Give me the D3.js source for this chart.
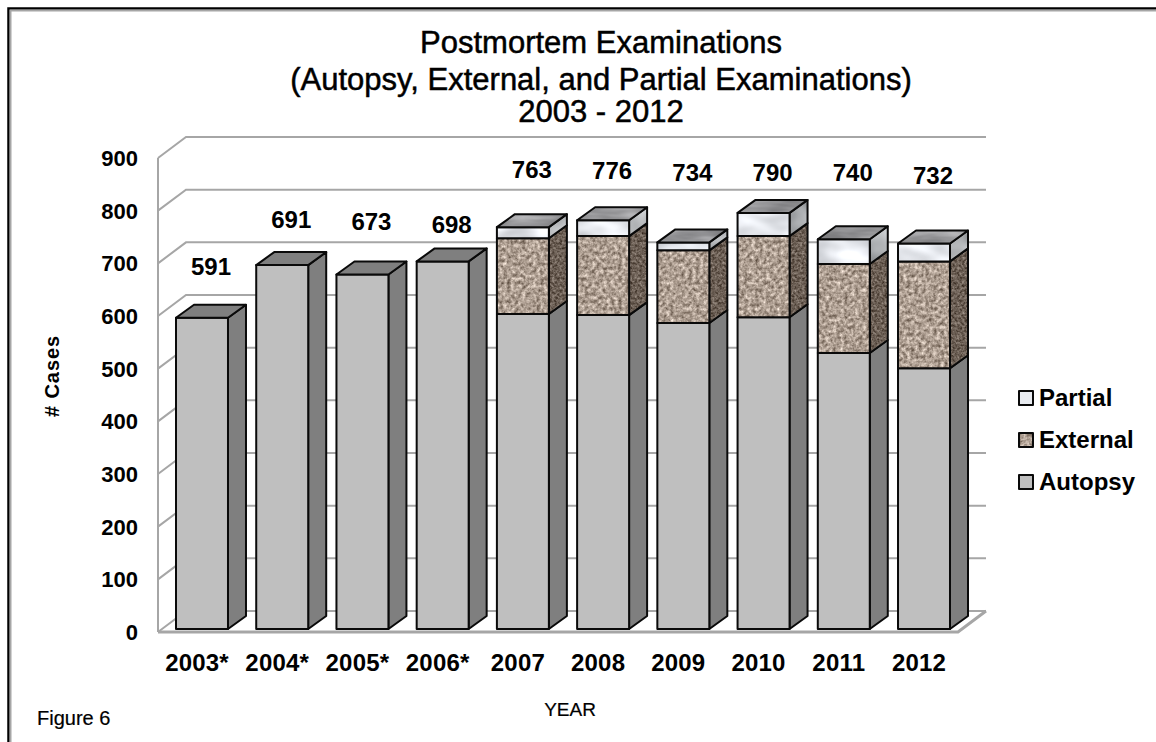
<!DOCTYPE html>
<html><head><meta charset="utf-8">
<script src="https://cdnjs.cloudflare.com/ajax/libs/d3/7.8.5/d3.min.js"></script>
<style>html,body{margin:0;padding:0;background:#fff}svg{display:block}text{font-family:"Liberation Sans",Arial,sans-serif;fill:#000}</style>
</head><body><div id="chart"></div>
<script>
const years=["2003*","2004*","2005*","2006*","2007","2008","2009","2010","2011","2012"];
const autopsy=[591,691,673,698,598,596,581,592,524,495];
const external=[0,0,0,0,144,150,138,154,169,203];
const partial=[0,0,0,0,21,30,15,44,47,34];
const totals=[591,691,673,698,763,776,734,790,740,732];
const labelLevels=[687,776,772,768,871,869,865,865,865,861];
const yTicks=[0,100,200,300,400,500,600,700,800,900];
const titleLines=["Postmortem Examinations","(Autopsy, External, and Partial Examinations)","2003 - 2012"];
const legendItems=["Partial","External","Autopsy"];

const W=1156,H=742;
const svg=d3.select("#chart").append("svg").attr("width",W).attr("height",H);
const defs=svg.append("defs");
function tex(id,freq,oct,seed,m){
  const f=defs.append("filter").attr("id",id).attr("x",0).attr("y",0).attr("width",1).attr("height",1)
    .attr("color-interpolation-filters","sRGB");
  f.append("feTurbulence").attr("type","fractalNoise").attr("baseFrequency",freq).attr("numOctaves",oct).attr("seed",seed);
  f.append("feColorMatrix").attr("type","matrix").attr("values",m);
  f.append("feComposite").attr("in2","SourceAlpha").attr("operator","in");
}
const mat=(k,r,g,b)=>`${k} 0 0 0 ${r} ${k} 0 0 0 ${g} ${k} 0 0 0 ${b} 0 0 0 0 1`;
tex("granite","0.27",3,4,mat(.8,.28,.22,.17));
tex("graniteDark","0.4",3,7,mat(.6,.12,.07,.03));
tex("partialFace","0.03 0.06",2,3,mat(.4,.7,.71,.73));
tex("partialSide","0.04",2,5,mat(.5,.43,.44,.45));
tex("topFace","0.02 0.1",3,9,mat(.4,.39,.39,.4));

const depthX=18,depthY=13,wallX=28,wallY=21;
const x=d3.scaleBand().domain(years).range([158,968]).paddingInner(.352).paddingOuter(.2244);
const y=d3.scaleLinear().domain([0,900]).range([629,155]);
const wallBase=3;
const gy=v=>y(v)+wallBase;
const g=svg.append("g");

// frame
g.append("path").attr("d",`M${W},8.5H8.5V${H}`).attr("fill","none").attr("stroke","#000").attr("stroke-width",2.5);
g.append("path").attr("d",`M${W},10.5H10.5V${H}`).attr("fill","none").attr("stroke","#a6a6a6").attr("stroke-width",2);

// walls and gridlines
const grid="#a6a6a6";
const left=158,right=958;
g.append("line").attr("x1",left).attr("x2",left).attr("y1",gy(900)).attr("y2",gy(0)).attr("stroke",grid).attr("stroke-width",2);
g.selectAll(".gl").data(yTicks).join("path").attr("class","gl")
  .attr("fill","none").attr("stroke",grid).attr("stroke-width",2)
  .attr("d",d=>`M${left},${gy(d)}L${left+wallX},${gy(d)-wallY}H${right+wallX}`);
g.append("path").attr("d",`M${left},${gy(0)}H${right}L${right+wallX},${gy(0)-wallY}`)
  .attr("fill","none").attr("stroke",grid).attr("stroke-width",3);

// axis labels
g.selectAll(".yl").data(yTicks).join("text").attr("class","yl")
  .attr("x",138).attr("y",d=>gy(d)+8).attr("text-anchor","end")
  .attr("font-size",22).attr("font-weight",700).text(d=>d);
g.selectAll(".xl").data(years).join("text").attr("class","xl")
  .attr("x",d=>x(d)+x.bandwidth()/2-5).attr("y",671).attr("text-anchor","middle")
  .attr("font-size",24).attr("font-weight",700).attr("letter-spacing",.2).text(d=>d);

// bars
const pts=a=>a.map(p=>p.join(",")).join(" ");
function face(points,fill,filter){
  const p=g.append("polygon").attr("points",pts(points)).attr("stroke","none");
  if(filter) p.attr("fill","#000").attr("filter",`url(#${filter})`); else p.attr("fill",fill);
  g.append("polygon").attr("points",pts(points)).attr("fill","none").attr("stroke","#0a0a0a").attr("stroke-width",2).attr("stroke-linejoin","round");
}
function block(yr,v0,v1,front,side,fFront,fSide){
  const x0=x(yr),x1=x0+x.bandwidth(),a=y(v0),b=y(v1);
  face([[x1,a],[x1+depthX,a-depthY],[x1+depthX,b-depthY],[x1,b]],side,fSide);
  face([[x0,a],[x1,a],[x1,b],[x0,b]],front,fFront);
}
years.forEach((yr,i)=>{
  const a=autopsy[i],e=external[i],p=partial[i];
  block(yr,0,a,"#bfbfbf","#7f7f7f");
  if(e>0) block(yr,a,a+e,null,null,"granite","graniteDark");
  if(p>0) block(yr,a+e,a+e+p,null,null,"partialFace","partialSide");
  const t=y(a+e+p),x0=x(yr),x1=x0+x.bandwidth();
  face([[x0,t],[x1,t],[x1+depthX,t-depthY],[x0+depthX,t-depthY]],"#7f7f7f",p>0?"topFace":null);
});

// value labels
g.selectAll(".vl").data(totals).join("text").attr("class","vl")
  .attr("x",(d,i)=>x(years[i])+x.bandwidth()/2+9).attr("y",(d,i)=>y(labelLevels[i])+8)
  .attr("text-anchor","middle").attr("font-size",24).attr("font-weight",700).text(d=>d);

// title
g.selectAll(".tt").data(titleLines).join("text").attr("class","tt")
  .attr("x",601).attr("y",(d,i)=>53+i*34.5+(i===1?2:0)).attr("text-anchor","middle")
  .attr("font-size",31).attr("font-weight",400).attr("stroke","#000").attr("stroke-width",.5).text(d=>d);

// axis titles
g.append("text").attr("transform","translate(59,376) rotate(-90)").attr("text-anchor","middle")
  .attr("font-size",20).attr("font-weight",700).attr("letter-spacing",.9).text("# Cases");
g.append("text").attr("x",570).attr("y",716).attr("text-anchor","middle").attr("font-size",19).attr("stroke","#000").attr("stroke-width",.2).text("YEAR");
g.append("text").attr("x",37).attr("y",725).attr("font-size",20).attr("stroke","#000").attr("stroke-width",.2).text("Figure 6");

// legend
const legY=d3.scalePoint().domain(legendItems).range([398,482]);
const legFill={Partial:["#e8ebf0",null],External:[null,"granite"],Autopsy:["#bfbfbf",null]};
legendItems.forEach(n=>{
  const c=legY(n),s=7;
  face([[1019,c-s],[1033,c-s],[1033,c+s],[1019,c+s]],legFill[n][0],legFill[n][1]);
  g.append("text").attr("x",1039).attr("y",c+8).attr("font-size",24).attr("font-weight",700).text(n);
});
</script></body></html>
